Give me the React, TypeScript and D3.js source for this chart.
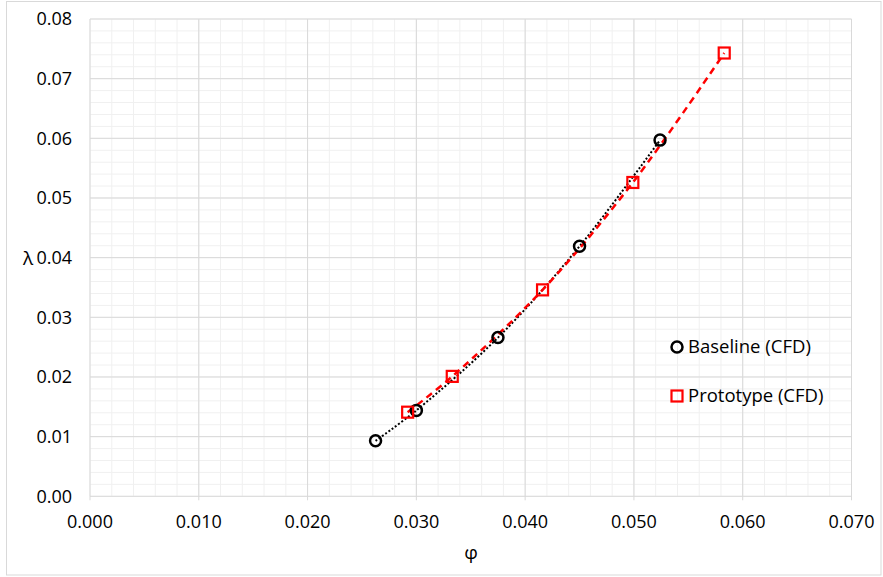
import React from "react";
import * as d3 from "d3";

const baselinePhi = [0.02625, 0.03, 0.0375, 0.045, 0.0524];
const baselineLambda = [0.0093, 0.0144, 0.0266, 0.0419, 0.0597];
const prototypePhi = [0.0292, 0.0333, 0.0416, 0.0499, 0.0583];
const prototypeLambda = [0.0141, 0.0201, 0.0346, 0.0526, 0.0743];
const xTicks = [0, 0.01, 0.02, 0.03, 0.04, 0.05, 0.06, 0.07];
const yTicks = [0, 0.01, 0.02, 0.03, 0.04, 0.05, 0.06, 0.07, 0.08];
const seriesNames = ["Baseline (CFD)", "Prototype (CFD)"];

const W = 883;
const H = 577;
const FONT = "'Open Sans', 'Noto Sans', sans-serif";

export default function App() {
  const x = d3.scaleLinear().domain([0, 0.07]).range([90, 851.5]);
  const y = d3.scaleLinear().domain([0, 0.08]).range([496.3, 19]);
  const minorX = d3.range(0, 36).map((i) => i * 0.002).filter((v) => v <= 0.0701);
  const minorY = d3.range(0, 41).map((i) => i * 0.002).filter((v) => v <= 0.0801);
  const line = d3
    .line<[number, number]>()
    .x((d) => x(d[0]))
    .y((d) => y(d[1]))
    .curve(d3.curveCatmullRom.alpha(0.5));
  const base: [number, number][] = baselinePhi.map((p, i) => [p, baselineLambda[i]]);
  const proto: [number, number][] = prototypePhi.map((p, i) => [p, prototypeLambda[i]]);
  const [x0, x1] = x.range();
  const [y0, y1] = y.range();
  return (
    <svg
      width={W}
      height={H}
      style={{ position: "absolute", left: 0, top: 0, background: "#fff" }}
      fontFamily={FONT}
    >
      <rect x={6.5} y={1.5} width={874.5} height={573.5} fill="#fff" stroke="#d9d9d9" strokeWidth={1} />
      {minorX.map((v, i) => (
        <line key={"mx" + i} x1={x(v)} x2={x(v)} y1={y1} y2={y0} stroke="#f0f0f0" strokeWidth={1} />
      ))}
      {minorY.map((v, i) => (
        <line key={"my" + i} x1={x0} x2={x1} y1={y(v)} y2={y(v)} stroke="#f0f0f0" strokeWidth={1} />
      ))}
      {xTicks.map((v, i) => (
        <line key={"gx" + i} x1={x(v)} x2={x(v)} y1={y1} y2={y0 + 4} stroke="#d9d9d9" strokeWidth={1} />
      ))}
      {yTicks.map((v, i) => (
        <line key={"gy" + i} x1={x0} x2={x1} y1={y(v)} y2={y(v)} stroke="#d9d9d9" strokeWidth={1} />
      ))}
      {xTicks.map((v, i) => (
        <text key={"tx" + i} x={x(v)} y={527.5} textAnchor="middle" fontSize={18} fill="#000">
          {d3.format(".3f")(v)}
        </text>
      ))}
      {yTicks.map((v, i) => (
        <text key={"ty" + i} x={72} y={y(v)} dy="0.35em" textAnchor="end" fontSize={18} fill="#000">
          {d3.format(".2f")(v)}
        </text>
      ))}
      <text x={28} y={258} dy="0.35em" textAnchor="middle" fontSize={19} fill="#000">λ</text>
      <text x={471} y={552} dy="0.35em" textAnchor="middle" fontSize={19} fill="#000">φ</text>

      <path d={line(base) || ""} fill="none" stroke="#000" strokeWidth={2} strokeDasharray="2,2" />
      <path d={line(proto) || ""} fill="none" stroke="#ff0000" strokeWidth={2.5} strokeDasharray="7,5" />

      {base.map((d, i) => (
        <circle key={"c" + i} cx={x(d[0])} cy={y(d[1])} r={5.5} fill="none" stroke="#000" strokeWidth={2.5} />
      ))}
      {proto.map((d, i) => (
        <rect key={"s" + i} x={x(d[0]) - 5.5} y={y(d[1]) - 5.5} width={11} height={11} fill="none" stroke="#ff0000" strokeWidth={2.2} />
      ))}

      <circle cx={677} cy={347} r={5.5} fill="none" stroke="#000" strokeWidth={2.5} />
      <text x={688} y={347} dy="0.35em" fontSize={18.5} fill="#000">{seriesNames[0]}</text>
      <rect x={671.5} y={390.5} width={11} height={11} fill="none" stroke="#ff0000" strokeWidth={2.2} />
      <text x={688} y={396} dy="0.35em" fontSize={18.5} fill="#000">{seriesNames[1]}</text>
    </svg>
  );
}
